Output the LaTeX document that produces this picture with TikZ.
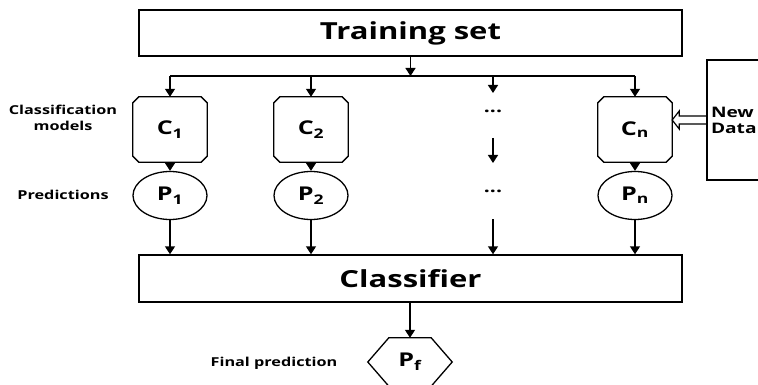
\documentclass[tikz,border=0pt]{standalone}
\usepackage{fontspec}
\setmainfont{Open Sans}
\newfontfamily\wf[FakeStretch=1.32]{Open Sans}
\usetikzlibrary{arrows.meta,shapes.geometric}
\newcommand\octashape[1]{%
  \draw[line width=1.3pt] ([xshift=6pt]#1.north west) -- ([xshift=-6pt]#1.north east)
    -- ([yshift=-6pt]#1.north east) -- ([yshift=6pt]#1.south east)
    -- ([xshift=-6pt]#1.south east) -- ([xshift=6pt]#1.south west)
    -- ([yshift=6pt]#1.south west) -- ([yshift=-6pt]#1.north west) -- cycle;}
\begin{document}
\begin{tikzpicture}[x=1pt,y=-1pt,
  ln/.style={line width=1.4pt},
  arr/.style={ln,-{Triangle[length=8pt,width=10pt]}},
  bigbox/.style={draw,ln,minimum width=543pt,minimum height=46pt,inner sep=0pt,font=\wf\bfseries\fontsize{23.5}{26}\selectfont},
  cbox/.style={rectangle,minimum width=74pt,minimum height=65pt,inner sep=0pt,font=\wf\bfseries\fontsize{19}{21}\selectfont},
  pell/.style={ellipse,draw,line width=1.3pt,minimum width=74pt,minimum height=48pt,inner sep=0pt,font=\wf\bfseries\fontsize{19}{21}\selectfont},
  hexa/.style={rectangle,minimum width=84pt,minimum height=48pt,inner sep=0pt,font=\wf\bfseries\fontsize{19}{21}\selectfont},
  lab/.style={font=\wf\bfseries\fontsize{12.3}{16}\selectfont,align=center},
  dots/.style={font=\wf\bfseries\fontsize{16}{18}\selectfont}
]
\useasboundingbox (0,0) rectangle (758,385);
\clip (0,0) rectangle (758,385);

\node[bigbox] (train) at (410.5,33) {Training set};
\node[bigbox,minimum height=47pt] (clf) at (410.5,278.5) {Classifier};

\node[cbox] (C1) at (170,129.5) {C\textsubscript{1}};
\node[cbox] (C2) at (311,129.5) {C\textsubscript{2}};
\node[cbox] (Cn) at (635,129.5) {C\textsubscript{n}};
\octashape{C1}\octashape{C2}\octashape{Cn}

\node[pell] (P1) at (170,195.5) {P\textsubscript{1}};
\node[pell] (P2) at (311,195.5) {P\textsubscript{2}};
\node[pell] (Pn) at (635,195.5) {P\textsubscript{n}};

\node[dots] (d1) at (493,111) {...};
\node[dots] (d2) at (493,191) {...};

\node[hexa] (Pf) at (410,362) {P\textsubscript{f}};
\draw[line width=1.3pt] (Pf.west) -- ([xshift=21pt]Pf.north west) -- ([xshift=-21pt]Pf.north east)
  -- (Pf.east) -- ([xshift=-21pt]Pf.south east) -- ([xshift=21pt]Pf.south west) -- cycle;

\node[draw,ln,minimum height=120pt,text width=85pt,inner xsep=4pt,align=left,
  font=\wf\bfseries\fontsize{14.5}{16}\selectfont] (nd) at (753.5,120) {New\\Data};

\node[lab] (lc) at (63,118) {Classification\\models};
\node[lab] (lp) at (63,195) {Predictions};
\node[lab] (lf) at (274,363) {Final prediction};

% branch line
\coordinate (bl) at (170,76);
\coordinate (br) at (635,76);
\coordinate (bt) at (train.south |- bl);
\coordinate (bd) at (493,76);
\coordinate (bde) at (493,93);
\coordinate (mds) at (493,138);
\coordinate (mde) at (493,163);
\coordinate (lds) at (493,219);
\coordinate (lde) at (clf.north -| lds);

\draw[arr] (train.south) -- (bt);
\draw[ln] (bl) -- (br);
\draw[arr] (bl) -- (C1.north);
\draw[arr] (C2.north |- bl) -- (C2.north);
\draw[arr] (bd) -- (bde);
\draw[arr] (br) -- (Cn.north);

\draw[arr] (C1.south) -- (P1.north);
\draw[arr] (C2.south) -- (P2.north);
\draw[arr] (Cn.south) -- (Pn.north);
\draw[arr] (mds) -- (mde);

\draw[arr] (P1.south) -- (clf.north -| P1.south);
\draw[arr] (P2.south) -- (clf.north -| P2.south);
\draw[arr] (Pn.south) -- (clf.north -| Pn.south);
\draw[arr] (lds) -- (lde);

\draw[arr] (clf.south -| Pf.north) -- (Pf.north);

% hollow arrow New Data -> Cn
\draw[line width=1.2pt,line join=miter]
  ([yshift=4pt]nd.west) -- ([xshift=7pt,yshift=4pt]Cn.east |- nd.west)
  -- ([xshift=7pt,yshift=9pt]Cn.east |- nd.west) -- (Cn.east |- nd.west)
  -- ([xshift=7pt,yshift=-9pt]Cn.east |- nd.west) -- ([xshift=7pt,yshift=-4pt]Cn.east |- nd.west)
  -- ([yshift=-4pt]nd.west);
\end{tikzpicture}
\end{document}
